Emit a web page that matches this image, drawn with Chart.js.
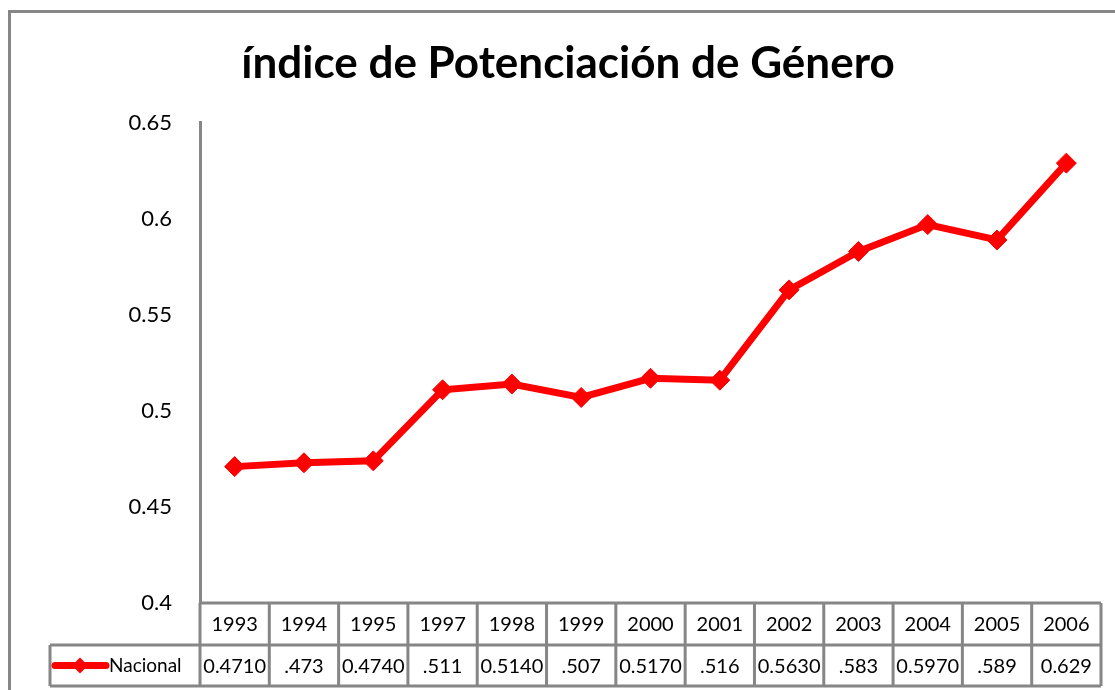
<!DOCTYPE html>
<html>
<head>
<meta charset="utf-8">
<script src="https://cdn.jsdelivr.net/npm/chart.js@4"></script>
<style>
    body { margin: 0; background: #fff; }
    #wrap { position: relative; width: 1115px; height: 690px; }
    #frame { position: absolute; left: 8px; top: 10px; right: -10px; bottom: -10px; border-left: 3px solid #868686; border-top: 3px solid #868686; }
    canvas { position: absolute; left: 0; top: 0; }
</style>
</head>
<body>
<div id="wrap">
    <div id="frame"></div>
    <canvas id="chart" width="1115" height="690"></canvas>
</div>
<script>
const years = ["1993", "1994", "1995", "1997", "1998", "1999", "2000", "2001", "2002", "2003", "2004", "2005", "2006"];
const nacional = [0.471, 0.473, 0.474, 0.511, 0.514, 0.507, 0.517, 0.516, 0.563, 0.583, 0.597, 0.589, 0.629];
// text as it appears in the data table (cells clip some values)
const tableText = ["0.4710", ".473", "0.4740", ".511", "0.5140", ".507", "0.5170", ".516", "0.5630", ".583", "0.5970", ".589", "0.629"];
const seriesName = "Nacional";
const chartTitle = "índice de Potenciación de Género";

const gray = "#868686";
const red = "#ff0000";
const font = "Lato";

// draws the Excel style data table under the plot
const dataTable = {
    id: "dataTable",
    afterDraw(chart) {
        const ctx = chart.ctx;
        const x = chart.scales.x;
        const area = chart.chartArea;
        const row1Top = area.bottom;
        const row1Bottom = row1Top + 42;
        const row2Bottom = row1Bottom + 41;
        const keyLeft = 50;
        const step = (area.right - area.left) / years.length;

        ctx.save();
        ctx.strokeStyle = gray;
        ctx.lineWidth = 3;
        ctx.beginPath();
        ctx.moveTo(area.left, row1Top);
        ctx.lineTo(area.right, row1Top);
        ctx.moveTo(keyLeft, row1Bottom);
        ctx.lineTo(area.right, row1Bottom);
        ctx.moveTo(keyLeft, row2Bottom);
        ctx.lineTo(area.right, row2Bottom);
        ctx.moveTo(keyLeft, row1Bottom);
        ctx.lineTo(keyLeft, row2Bottom);
        for (let i = 0; i <= years.length; ++i) {
            const cx = area.left + i * step;
            ctx.moveTo(cx, row1Top);
            ctx.lineTo(cx, row2Bottom);
        }
        ctx.stroke();

        ctx.fillStyle = "#000";
        ctx.textAlign = "center";
        ctx.textBaseline = "middle";
        ctx.font = "20px " + font;
        for (let i = 0; i < years.length; ++i) {
            const cx = x.getPixelForValue(i);
            ctx.fillText(years[i], cx, (row1Top + row1Bottom) / 2 + 1);
            ctx.fillText(tableText[i], cx, (row1Bottom + row2Bottom) / 2 + 1);
        }

        // legend key
        const ky = (row1Bottom + row2Bottom) / 2;
        ctx.strokeStyle = red;
        ctx.lineWidth = 7;
        ctx.lineCap = "round";
        ctx.beginPath();
        ctx.moveTo(keyLeft + 5, ky);
        ctx.lineTo(keyLeft + 56, ky);
        ctx.stroke();
        ctx.fillStyle = red;
        ctx.beginPath();
        ctx.moveTo(keyLeft + 30, ky - 8);
        ctx.lineTo(keyLeft + 38, ky);
        ctx.lineTo(keyLeft + 30, ky + 8);
        ctx.lineTo(keyLeft + 22, ky);
        ctx.closePath();
        ctx.fill();
        ctx.fillStyle = "#000";
        ctx.textAlign = "left";
        ctx.font = "19px " + font;
        ctx.fillText(seriesName, keyLeft + 59, ky);
        ctx.restore();
    }
};

new Chart(document.getElementById("chart"), {
    type: "line",
    data: {
        labels: years,
        datasets: [{
            label: seriesName,
            data: nacional,
            borderColor: red,
            backgroundColor: red,
            borderWidth: 7,
            pointStyle: "rectRot",
            pointRadius: 10,
            pointBorderWidth: 1,
            tension: 0
        }]
    },
    options: {
        responsive: false,
        animation: false,
        layout: { padding: { left: 35, right: 14, top: 10, bottom: 87 } },
        plugins: {
            legend: { display: false },
            tooltip: { enabled: false },
            title: {
                display: true,
                text: chartTitle,
                color: "#000",
                font: { family: font, size: 44, weight: "bold" },
                padding: { top: 27, bottom: 33 }
            }
        },
        scales: {
            x: {
                display: false,
                offset: true
            },
            y: {
                min: 0.4,
                max: 0.65,
                afterFit(scale) { scale.width = 165; },
                grid: { display: false, drawTicks: false },
                border: { display: true, color: gray, width: 3 },
                ticks: {
                    stepSize: 0.05,
                    padding: 28,
                    color: "#000",
                    font: { family: font, size: 22 },
                    callback: (v) => String(Math.round(v * 100) / 100)
                }
            }
        }
    },
    plugins: [dataTable]
});
</script>
</body>
</html>
